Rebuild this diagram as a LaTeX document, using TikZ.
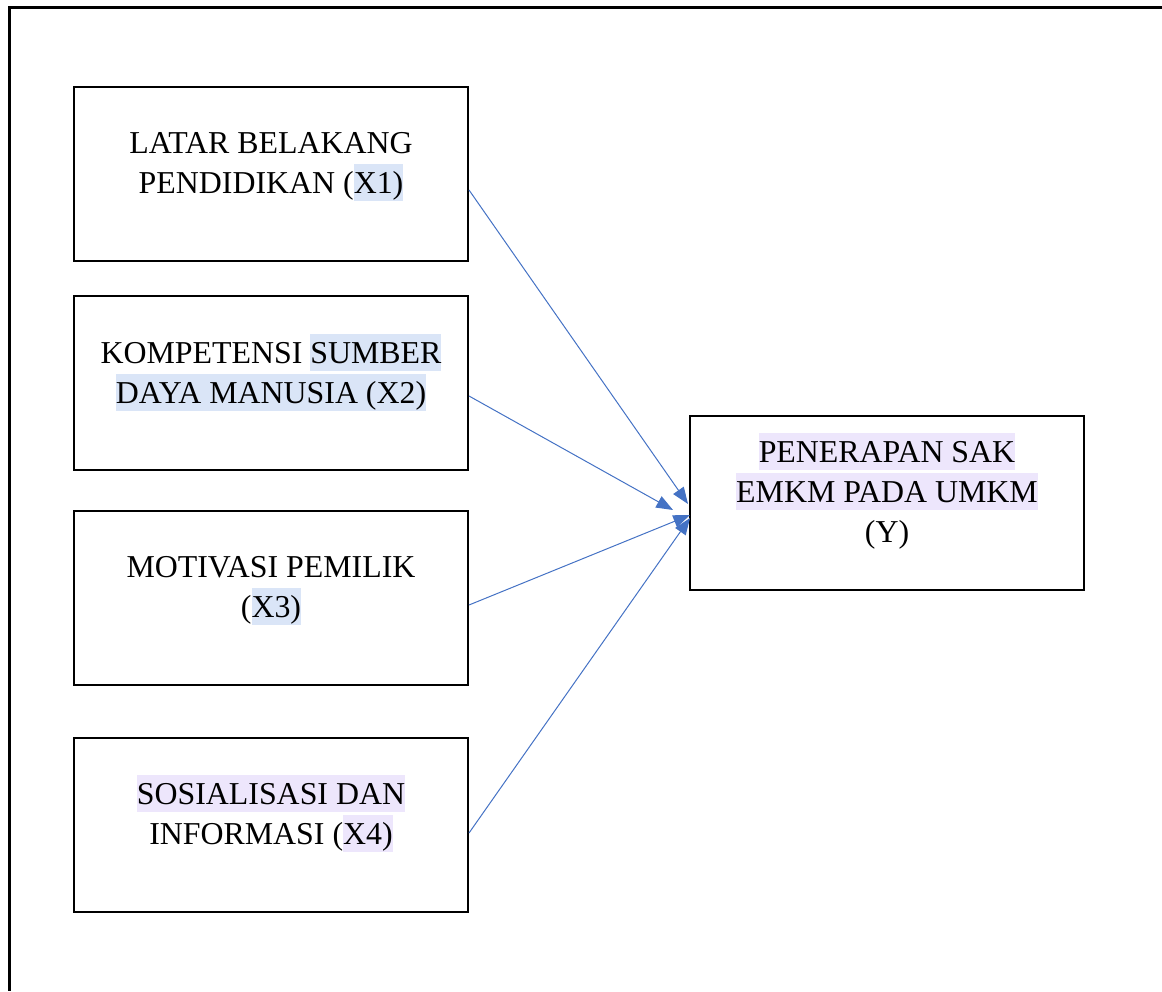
\documentclass[tikz,border=0pt]{standalone}
\usepackage{fontspec}
\setmainfont{Liberation Serif}
\usetikzlibrary{arrows.meta}
\definecolor{hlblue}{HTML}{DAE5F7}
\definecolor{hlpurple}{HTML}{EDE6FC}
\definecolor{arrowblue}{HTML}{4472C4}
\newcommand{\ls}{\rule[-6pt]{0pt}{27.75pt}}
\newcommand{\hlb}[1]{{\setlength{\fboxsep}{0pt}\colorbox{hlblue}{\ls#1}}}
\newcommand{\hlp}[1]{{\setlength{\fboxsep}{0pt}\colorbox{hlpurple}{\ls#1}}}
\begin{document}
\begin{tikzpicture}[x=0.75pt,y=-0.75pt,
  varbox/.style={draw=black,line width=1.5pt,minimum width=295.5pt,minimum height=130.5pt,inner sep=0pt,outer sep=0pt},
  boxtext/.style={anchor=north,align=center,inner sep=0pt,font=\fontsize{23.9}{30}\selectfont},
  arr/.style={draw=arrowblue,line width=0.75pt,-{Triangle[length=12.5pt,width=9.5pt]}}]
\useasboundingbox (0,0) rectangle (1162,991);
\draw[line width=2.25pt] (1162,7.5) -- (9.5,7.5) -- (9.5,991);
% boxes
\node[varbox] (b1) at (271,174) {};
\node[varbox] (b2) at (271,383) {};
\node[varbox] (b3) at (271,598) {};
\node[varbox] (b4) at (271,825) {};
\node[varbox] (by) at (887,503) {};
% texts
\node[boxtext] (t1) at (271,124) {\ls LATAR BELAKANG\\\ls PENDIDIKAN (\hlb{X1)}};
\node[boxtext] (t2) at (271,334) {\ls KOMPETENSI \hlb{SUMBER}\\\hlb{DAYA MANUSIA (X2)}};
\node[boxtext] (t3) at (271,548) {\ls MOTIVASI PEMILIK\\\ls(\hlb{X3)}};
\node[boxtext] (t4) at (271,775) {\hlp{SOSIALISASI DAN}\\\ls INFORMASI (\hlp{X4)}};
\node[boxtext] (ty) at (887,433) {\hlp{PENERAPAN SAK}\\\hlp{EMKM PADA UMKM}\\\ls(Y)};
% arrow ends
\coordinate (e1) at (688,504);
\coordinate (e2) at (673,510);
\coordinate (e3) at (690,515);
\coordinate (e4) at (690,518);
\draw[arr] ([yshift=-12pt,xshift=0.75pt]b1.east) -- (e1);
\draw[arr] ([yshift=-9.75pt,xshift=0.75pt]b2.east) -- (e2);
\draw[arr] ([yshift=-5.25pt,xshift=0.75pt]b3.east) -- (e3);
\draw[arr] ([yshift=-6pt,xshift=0.75pt]b4.east) -- (e4);
\end{tikzpicture}
\end{document}
